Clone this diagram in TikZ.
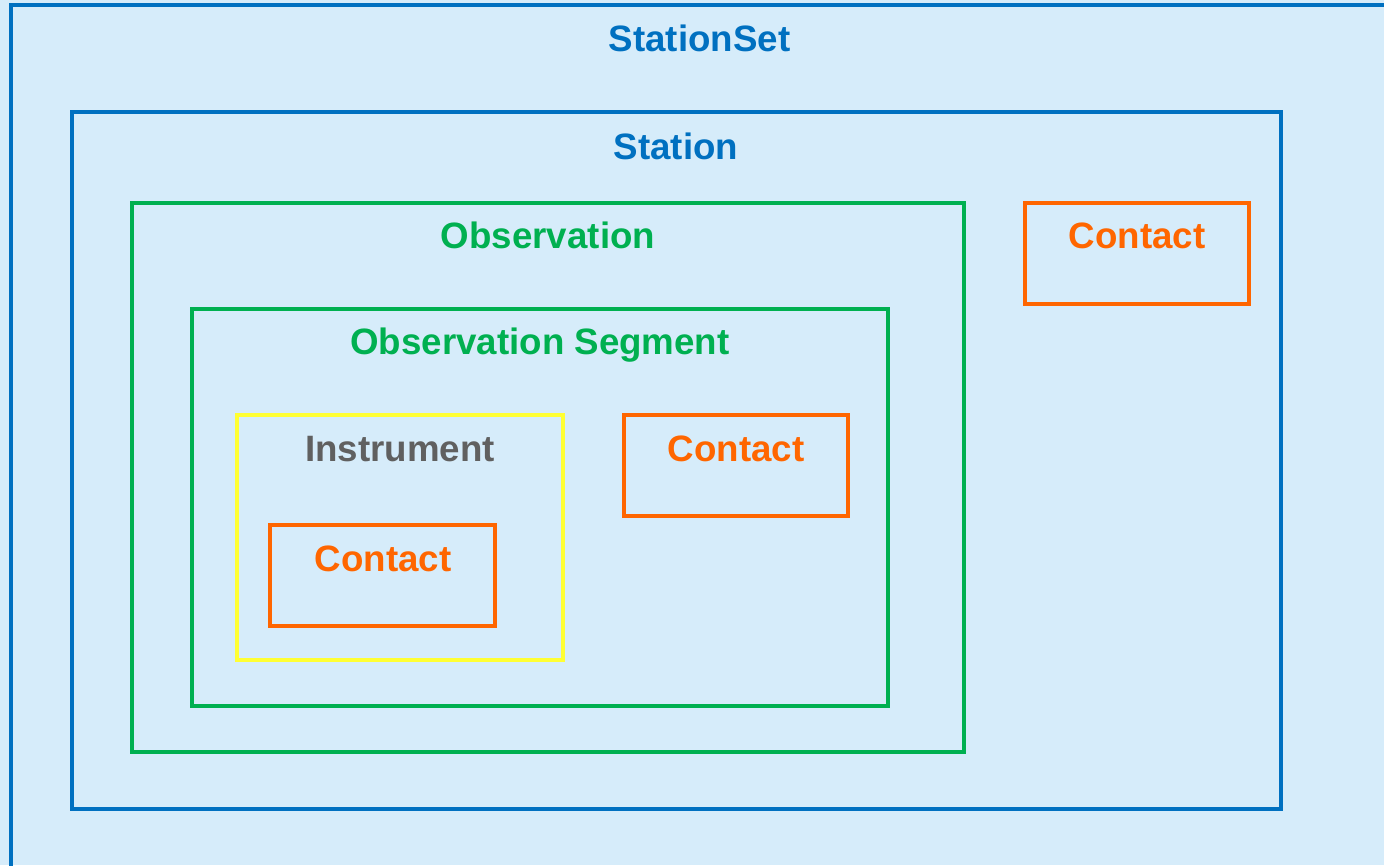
\documentclass[tikz,border=0pt]{standalone}
\usepackage{fontspec}
\setmainfont{Liberation Sans}
\definecolor{bgblue}{HTML}{D6ECFA}
\definecolor{sblue}{HTML}{0070C0}
\definecolor{sgreen}{HTML}{00B050}
\definecolor{sorange}{HTML}{FF6600}
\definecolor{syellow}{HTML}{FFFF33}
\definecolor{sgray}{HTML}{606060}
\begin{document}
\begin{tikzpicture}[x=1pt,y=-1pt,
  box/.style={draw, line width=4.2pt, inner sep=0pt, outer sep=0pt, fill=none},
  lbl/.style={anchor=base, inner sep=0pt, font=\fontsize{36.7}{40}\selectfont\bfseries}
]
\fill[bgblue] (0,0) rectangle (1384,865);
\useasboundingbox (0,0) rectangle (1384,865);
% outer StationSet
\draw[sblue, line width=4.2pt] (1400,5) -- (11,5) -- (11,880);
\coordinate (ssTop) at (699.5,51);
\node[lbl, text=sblue] (stationset) at (ssTop) {StationSet};
% boxes
\node[box, draw=sblue, minimum width=1209pt, minimum height=697pt] (station) at (676.5,460.5) {};
\node[box, draw=sgreen, minimum width=832pt, minimum height=549pt] (obs) at (548,477.5) {};
\node[box, draw=sgreen, minimum width=696pt, minimum height=397pt] (seg) at (540,507.5) {};
\node[box, draw=syellow, minimum width=326pt, minimum height=245pt] (instr) at (400,537.5) {};
\node[box, draw=sorange, minimum width=225pt, minimum height=101pt] (c1) at (382.5,575.5) {};
\node[box, draw=sorange, minimum width=224pt, minimum height=101pt] (c2) at (736,465.5) {};
\node[box, draw=sorange, minimum width=224pt, minimum height=101pt] (c3) at (1137,253.5) {};
% labels
\node[lbl, text=sblue] (stationL) at (676,159) {Station};
\node[lbl, text=sgreen] (obsL) at (548,248) {Observation};
\node[lbl, text=sgreen] (segL) at (540,354) {Observation Segment};
\node[lbl, text=sgray] (instrL) at (400,461) {Instrument};
\node[lbl, text=sorange] (c1L) at (383,571) {Contact};
\node[lbl, text=sorange] (c2L) at (736,461) {Contact};
\node[lbl, text=sorange] (c3L) at (1137,248) {Contact};
\end{tikzpicture}
\end{document}
